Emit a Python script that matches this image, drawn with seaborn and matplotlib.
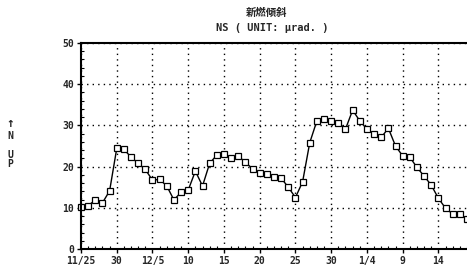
import numpy as np
import pandas as pd
import seaborn as sns
import matplotlib.pyplot as plt
from matplotlib.ticker import MultipleLocator

# daily tilt values from 11/25 to 1/18 (NS, micro rad)
days = list(range(55))
ns_tilt = [10.3, 10.5, 11.9, 11.2, 14.1, 24.4,
           24.2, 22.3, 20.8, 19.3, 16.7, 16.9, 15.3, 11.9, 13.8, 14.3,
           18.9, 15.3, 20.8, 22.8, 23.0, 22.0, 22.6, 21.0, 19.5, 18.4,
           18.1, 17.4, 17.2, 15.0, 12.5, 16.3, 25.8, 31.1, 31.5, 31.1, 30.7,
           29.1, 33.7, 31.1, 29.1, 27.8, 27.1, 29.3, 25.0, 22.6, 22.3,
           19.8, 17.7, 15.5, 12.3, 9.9, 8.5, 8.5, 7.3]
tick_pos = [0, 5, 10, 15, 20, 25, 30, 35, 40, 45, 50]
tick_labels = ["11/25", "30", "12/5", "10", "15", "20", "25", "30", "1/4", "9", "14"]

df = pd.DataFrame({"day": days, "tilt": ns_tilt})

sns.set_style("white")
plt.rcParams['font.family'] = ['DejaVu Sans Mono', 'Noto Sans CJK JP']

fig = plt.figure(figsize=(4.67, 2.73), dpi=100)
ax = fig.add_axes([81 / 467, 1 - 249 / 273, (467 - 81) / 467, (249 - 43) / 273])

sns.lineplot(data=df, x="day", y="tilt", ax=ax, color="black", linewidth=1.0,
             marker="s", markersize=5, markerfacecolor="white",
             markeredgecolor="black", markeredgewidth=0.9, clip_on=False)

ax.set_xlim(0, 54)
ax.set_ylim(0, 50)
ax.set_xticks(tick_pos)
ax.set_xticklabels(tick_labels, fontsize=7, fontweight="bold")
ax.set_yticks([0, 10, 20, 30, 40, 50])
ax.set_yticklabels(["0", "10", "20", "30", "40", "50"], fontsize=7, fontweight="bold")
ax.xaxis.set_minor_locator(MultipleLocator(1))
ax.yaxis.set_minor_locator(MultipleLocator(2))
ax.tick_params(which="major", direction="out", length=3, width=1, color="black", pad=2)
ax.tick_params(which="minor", direction="in", length=2, width=0.8, color="black")
ax.tick_params(axis="x", which="both", bottom=True)
ax.tick_params(axis="y", which="both", left=True)
ax.grid(True, which="major", color="black", linestyle=(0, (1, 3)), linewidth=1.0)
ax.set_xlabel("")
ax.set_ylabel("")
for side in ["left", "bottom", "top"]:
    ax.spines[side].set_color("black")
    ax.spines[side].set_linewidth(1.5)
ax.spines["right"].set_visible(False)

fig.text(267 / 467, 1 - 13 / 273, "新燃傾斜", ha="center", va="center",
         fontsize=7.5, fontweight="bold", family=['Noto Sans CJK JP', 'DejaVu Sans'])
fig.text(272 / 467, 1 - 28 / 273, "NS ( UNIT: \u03bcrad. )", ha="center", va="center",
         fontsize=7.5, fontweight="bold")
fig.text(10 / 467, 1 - 124 / 273, "↑", ha="center", va="center",
         fontsize=9, fontweight="bold")
fig.text(10 / 467, 1 - 150 / 273, "N\n\nU\nP", ha="center", va="center",
         fontsize=7, fontweight="bold", linespacing=0.95)

fig.savefig("out.png", dpi=100)
